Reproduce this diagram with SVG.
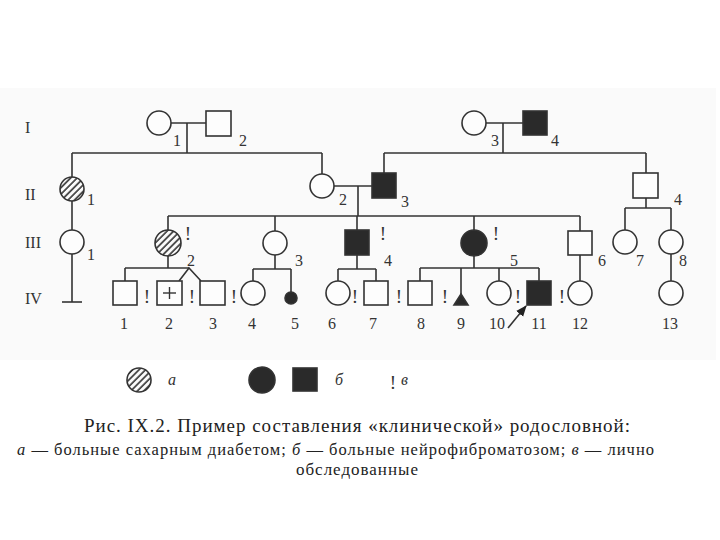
<svg xmlns="http://www.w3.org/2000/svg" width="720" height="540" viewBox="0 0 720 540">
<defs>
<pattern id="hatch" width="4.6" height="4.6" patternUnits="userSpaceOnUse" patternTransform="rotate(45)">
<rect width="4.6" height="4.6" fill="#fbfbfb"/>
<line x1="1" y1="0" x2="1" y2="4.6" stroke="#333" stroke-width="1.6"/>
</pattern>
<marker id="arr" viewBox="0 0 10 10" refX="9" refY="5" markerWidth="7" markerHeight="7" orient="auto">
<path d="M0,1 L10,5 L0,9 Z" fill="#222"/>
</marker>
<style>
.s{fill:#fdfdfd;stroke:#333;stroke-width:1.6}
.f{fill:#2a2a2a;stroke:#333;stroke-width:1.6}
.h{fill:url(#hatch);stroke:#333;stroke-width:1.6}
.c line,.c polyline{stroke:#333;stroke-width:1.6;fill:none}
.n{font-family:"Liberation Serif","DejaVu Serif",serif;font-size:16px;fill:#333;text-anchor:middle}
.g{font-family:"Liberation Serif","DejaVu Serif",serif;font-size:16px;fill:#333}
.e{font-family:"Liberation Serif","DejaVu Serif",serif;font-size:19px;fill:#333;text-anchor:middle}
.cap{font-family:"Liberation Serif","DejaVu Serif",serif;fill:#222}
</style>
</defs>
<rect width="720" height="540" fill="#ffffff"/>
<rect x="0" y="88" width="716" height="272" fill="#fafafa"/>

<g id="gen-labels">
<text class="g" x="25" y="133">I</text>
<text class="g" x="25" y="200">II</text>
<text class="g" x="25" y="248">III</text>
<text class="g" x="25" y="304">IV</text>
</g>

<g id="connectors" class="c">
<line x1="171" y1="123" x2="206" y2="123"/>
<line x1="187" y1="123" x2="187" y2="153"/>
<line x1="72" y1="153" x2="322" y2="153"/>
<line x1="72" y1="153" x2="72" y2="177"/>
<line x1="322" y1="153" x2="322" y2="174"/>
<line x1="486" y1="123" x2="523" y2="123"/>
<line x1="503" y1="123" x2="503" y2="153"/>
<line x1="384" y1="153" x2="646" y2="153"/>
<line x1="384" y1="153" x2="384" y2="173"/>
<line x1="646" y1="153" x2="646" y2="173"/>
<line x1="72" y1="201" x2="72" y2="230"/>
<line x1="72" y1="254" x2="72" y2="302"/>
<line x1="62" y1="302" x2="82" y2="302"/>
<line x1="334" y1="186" x2="372" y2="186"/>
<line x1="358" y1="186" x2="358" y2="216"/>
<line x1="168" y1="216" x2="580" y2="216"/>
<line x1="168" y1="216" x2="168" y2="230"/>
<line x1="275" y1="216" x2="275" y2="231"/>
<line x1="357" y1="216" x2="357" y2="230"/>
<line x1="474" y1="216" x2="474" y2="230"/>
<line x1="580" y1="216" x2="580" y2="231"/>
<line x1="646" y1="198" x2="646" y2="208"/>
<line x1="625" y1="208" x2="671" y2="208"/>
<line x1="625" y1="208" x2="625" y2="230"/>
<line x1="671" y1="208" x2="671" y2="230"/>
<line x1="671" y1="254" x2="671" y2="281"/>
<line x1="168" y1="256" x2="168" y2="268"/>
<line x1="125" y1="268" x2="189" y2="268"/>
<line x1="125" y1="268" x2="125" y2="281"/>
<polyline points="179,281 189,268 201,281"/>
<line x1="275" y1="254" x2="275" y2="269"/>
<line x1="253" y1="269" x2="291" y2="269"/>
<line x1="253" y1="269" x2="253" y2="281"/>
<line x1="291" y1="269" x2="291" y2="292"/>
<line x1="357" y1="255" x2="357" y2="269"/>
<line x1="338" y1="269" x2="376" y2="269"/>
<line x1="338" y1="269" x2="338" y2="281"/>
<line x1="376" y1="269" x2="376" y2="281"/>
<line x1="474" y1="256" x2="474" y2="268"/>
<line x1="420" y1="268" x2="539" y2="268"/>
<line x1="420" y1="268" x2="420" y2="281"/>
<line x1="461" y1="268" x2="461" y2="295"/>
<line x1="499" y1="268" x2="499" y2="281"/>
<line x1="539" y1="268" x2="539" y2="281"/>
<line x1="580" y1="255" x2="580" y2="281"/>
<line x1="508" y1="328" x2="526" y2="306" marker-end="url(#arr)"/>
</g>

<g id="I-1"><circle class="s" cx="159" cy="123" r="12"/><text class="n" x="177" y="146">1</text></g>
<g id="I-2"><rect class="s" x="206" y="111" width="25" height="25"/><text class="n" x="243" y="146">2</text></g>
<g id="I-3"><circle class="s" cx="474" cy="123" r="12"/><text class="n" x="495" y="146">3</text></g>
<g id="I-4"><rect class="f" x="523" y="111" width="24" height="24"/><text class="n" x="555" y="146">4</text></g>

<g id="II-1"><circle class="h" cx="72" cy="189" r="12"/><text class="n" x="91" y="205">1</text></g>
<g id="II-2"><circle class="s" cx="322" cy="186" r="12"/><text class="n" x="343" y="205">2</text></g>
<g id="II-3"><rect class="f" x="372" y="173" width="24" height="25"/><text class="n" x="405" y="207">3</text></g>
<g id="II-4"><rect class="s" x="633" y="173" width="25" height="25"/><text class="n" x="678" y="205">4</text></g>

<g id="III-1"><circle class="s" cx="72" cy="242" r="12"/><text class="n" x="91" y="260">1</text></g>
<g id="III-2"><circle class="h" cx="168" cy="243" r="13"/><text class="e" x="188" y="240">!</text><text class="n" x="191" y="266">2</text></g>
<g id="III-3"><circle class="s" cx="275" cy="243" r="12"/><text class="n" x="299" y="266">3</text></g>
<g id="III-4"><rect class="f" x="345" y="230" width="24" height="25"/><text class="e" x="383" y="240">!</text><text class="n" x="388" y="266">4</text></g>
<g id="III-5"><circle class="f" cx="474" cy="243" r="13"/><text class="e" x="496" y="240">!</text><text class="n" x="514" y="266">5</text></g>
<g id="III-6"><rect class="s" x="568" y="231" width="24" height="24"/><text class="n" x="602" y="266">6</text></g>
<g id="III-7"><circle class="s" cx="625" cy="242" r="12"/><text class="n" x="640" y="266">7</text></g>
<g id="III-8"><circle class="s" cx="671" cy="242" r="12"/><text class="n" x="683" y="266">8</text></g>

<g id="IV-1"><rect class="s" x="113" y="281" width="24" height="24"/><text class="e" x="147" y="303">!</text><text class="n" x="124" y="329">1</text></g>
<g id="IV-2"><rect class="s" x="157" y="281" width="25" height="24"/><line x1="163" y1="293" x2="176" y2="293" stroke="#333" stroke-width="1.4"/><line x1="169.5" y1="287" x2="169.5" y2="299" stroke="#333" stroke-width="1.4"/><text class="e" x="192" y="303">!</text><text class="n" x="169" y="329">2</text></g>
<g id="IV-3"><rect class="s" x="200" y="281" width="25" height="24"/><text class="e" x="234" y="303">!</text><text class="n" x="213" y="329">3</text></g>
<g id="IV-4"><circle class="s" cx="253" cy="293" r="12"/><text class="n" x="252" y="329">4</text></g>
<g id="IV-5"><circle class="f" cx="291" cy="298" r="6"/><text class="n" x="295" y="329">5</text></g>
<g id="IV-6"><circle class="s" cx="338" cy="293" r="12"/><text class="e" x="355" y="303">!</text><text class="n" x="332" y="329">6</text></g>
<g id="IV-7"><rect class="s" x="364" y="281" width="24" height="24"/><text class="e" x="399" y="303">!</text><text class="n" x="373" y="329">7</text></g>
<g id="IV-8"><rect class="s" x="408" y="281" width="24" height="24"/><text class="e" x="445" y="303">!</text><text class="n" x="421" y="329">8</text></g>
<g id="IV-9"><polygon class="f" points="461,294 468,305 454,305"/><text class="n" x="461" y="329">9</text></g>
<g id="IV-10"><circle class="s" cx="499" cy="293" r="12"/><text class="e" x="518" y="303">!</text><text class="n" x="497" y="329">10</text></g>
<g id="IV-11"><rect class="f" x="527" y="281" width="24" height="24"/><text class="e" x="562" y="303">!</text><text class="n" x="539" y="329">11</text></g>
<g id="IV-12"><circle class="s" cx="580" cy="293" r="12"/><text class="n" x="580" y="329">12</text></g>
<g id="IV-13"><circle class="s" cx="671" cy="293" r="12"/><text class="n" x="670" y="329">13</text></g>

<g id="legend">
<circle class="h" cx="139" cy="380" r="12"/>
<text class="g" x="168" y="385" font-style="italic">а</text>
<circle class="f" cx="262" cy="380" r="13"/>
<rect class="f" x="293" y="368" width="24" height="23"/>
<text class="g" x="335" y="385" font-style="italic">б</text>
<text class="e" x="393" y="389">!</text>
<text class="g" x="401" y="385" font-style="italic">в</text>
</g>

<g id="caption">
<text class="cap" x="84" y="432" font-size="19" textLength="546">Рис. IX.2. Пример составления «клинической» родословной:</text>
<text class="cap" x="17" y="455" font-size="16.5" textLength="637"><tspan font-style="italic">а</tspan> — больные сахарным диабетом; <tspan font-style="italic">б</tspan> — больные нейрофиброматозом; <tspan font-style="italic">в</tspan> — лично</text>
<text class="cap" x="357" y="475" font-size="17" text-anchor="middle" textLength="122">обследованные</text>
</g>
</svg>
